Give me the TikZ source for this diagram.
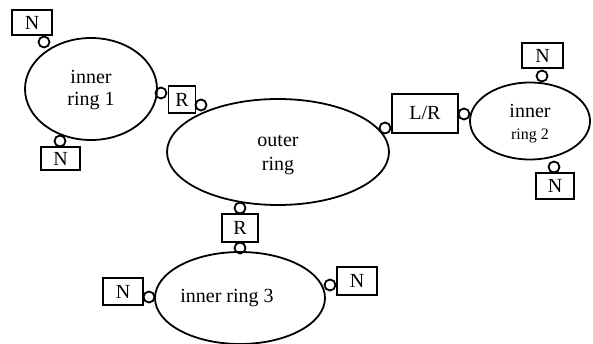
\documentclass[tikz,border=0pt]{standalone}
\usepackage{fontspec}
\setmainfont{Liberation Serif}
\usetikzlibrary{shapes.geometric}
\begin{document}
\begin{tikzpicture}[x=1pt,y=-1pt,
        ring/.style={draw,ellipse,line width=1.8pt,inner sep=0pt},
        ringtext/.style={align=center,font=\fontsize{20}{22}\selectfont},
        port/.style={draw,rectangle,line width=1.8pt,inner sep=0pt,font=\fontsize{20}{22}\selectfont},
        plug/.style={draw,circle,line width=1.8pt,minimum size=11pt,inner sep=0pt}]
        \useasboundingbox (0,0) rectangle (593,344);

        % rings
        \node[ring,minimum width=132pt,minimum height=102pt] (ring1) at (91,89) {};
        \node[ring,minimum width=222pt,minimum height=106pt] (outer) at (278,152) {};
        \node[ring,minimum width=120pt,minimum height=77pt] (ring2) at (530,121) {};
        \node[ring,minimum width=170pt,minimum height=92pt] (ring3) at (240,298) {};

        \node[ringtext] (ring1text) at (91,90) {inner\\ring 1};
        \node[ringtext,font=\fontsize{20}{24}\selectfont] (outertext) at (278,155) {outer\\ring};
        \node[ringtext] (ring2text) at (530,124) {inner\\{\fontsize{16}{18}\selectfont ring 2}};
        \node[ringtext] (ring3text) at (227,298) {inner ring 3};

        % boxes
        \node[port,minimum width=40pt,minimum height=25pt] (n1a) at (32,22.5) {N};
        \node[port,minimum width=39pt,minimum height=23pt] (n1b) at (60.5,158.5) {N};
        \node[port,minimum width=27pt,minimum height=27pt] (r1) at (182,99.5) {R};
        \node[port,minimum width=36pt,minimum height=28pt] (r3) at (240,228) {R};
        \node[port,minimum width=40pt,minimum height=27pt] (n3l) at (123,291.5) {N};
        \node[port,minimum width=40pt,minimum height=28pt] (n3r) at (357,281) {N};
        \node[port,minimum width=66pt,minimum height=39pt] (lr) at (425,113.5) {L/R};
        \node[port,minimum width=41pt,minimum height=25pt] (n2a) at (542.5,55.5) {N};
        \node[port,minimum width=38pt,minimum height=26pt] (n2b) at (555,186) {N};

        % plugs
        \node[plug] (p1a) at (44,42) {};
        \node[plug] (p1b) at (60,141) {};
        \node[plug] (pr1l) at (161,93) {};
        \node[plug] (pr1r) at (201,105) {};
        \node[plug] (pr3t) at (240,208) {};
        \node[plug] (pr3b) at (240,248) {};
        \node[plug] (p3l) at (149,297) {};
        \node[plug] (p3r) at (330,285) {};
        \node[plug] (plrl) at (385,128) {};
        \node[plug] (plrr) at (464,114) {};
        \node[plug] (p2a) at (542,76) {};
        \node[plug] (p2b) at (554,167) {};
\end{tikzpicture}
\end{document}
